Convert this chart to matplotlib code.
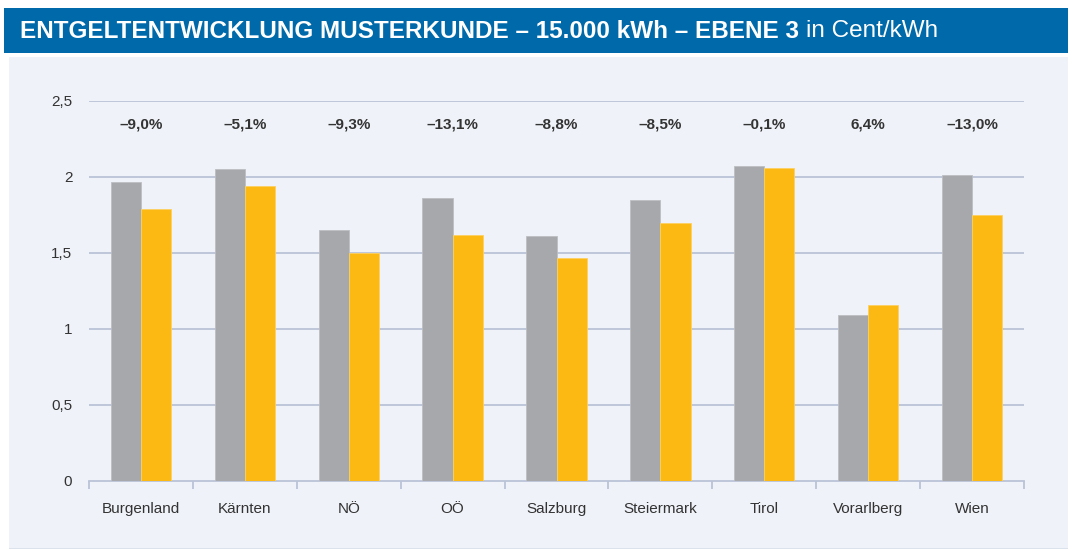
import matplotlib
matplotlib.use("Agg")
import matplotlib.pyplot as plt
from matplotlib.patches import Rectangle
import numpy as np

categories = ["Burgenland", "Kärnten", "NÖ", "OÖ", "Salzburg", "Steiermark", "Tirol", "Vorarlberg", "Wien"]
values_old = [1.97, 2.05, 1.65, 1.86, 1.61, 1.85, 2.07, 1.09, 2.01]
values_new = [1.79, 1.94, 1.50, 1.62, 1.47, 1.70, 2.06, 1.16, 1.75]
changes = ["–9,0%", "–5,1%", "–9,3%", "–13,1%", "–8,8%", "–8,5%", "–0,1%", "6,4%", "–13,0%"]
yticks = [0, 0.5, 1, 1.5, 2, 2.5]
ytick_labels = ["0", "0,5", "1", "1,5", "2", "2,5"]

plt.rcParams['font.family'] = ['Liberation Sans', 'DejaVu Sans']

W, H = 1073, 550
fig = plt.figure(figsize=(W/100, H/100), dpi=100)
fig.patch.set_facecolor('white')

# panel background
fig.patches.append(Rectangle((9/W, 1-548/H), (1068-9)/W, (548-57)/H, transform=fig.transFigure,
                             facecolor='#EFF2F8', edgecolor='none', zorder=-5))
fig.patches.append(Rectangle((9/W, 1-549/H), (1068-9)/W, 1.5/H, transform=fig.transFigure,
                             facecolor='#DCE2EC', edgecolor='none', zorder=-5))
# title bar
fig.patches.append(Rectangle((4/W, 1-53/H), (1068-4)/W, (53-8)/H, transform=fig.transFigure,
                             facecolor='#0069AA', edgecolor='none', zorder=-5))
fig.text(20/W, 1-31/H, "ENTGELTENTWICKLUNG MUSTERKUNDE – 15.000 kWh – EBENE 3",
         color='white', fontsize=17.5, fontweight='bold', va='center', ha='left')
fig.canvas.draw()
t = fig.texts[-1]
bb = t.get_window_extent(renderer=fig.canvas.get_renderer())
fig.text((bb.x1 + 7)/W, 1-31/H, "in Cent/kWh", color='white', fontsize=17.5, va='center', ha='left')

ax = fig.add_axes([89/W, 1-481/H, (1024-89)/W, (481-101)/H])
ax.set_zorder(2)
ax.set_facecolor('none')
x = np.arange(len(categories))
bw = 0.29
ax.bar(x - bw/2, values_old, bw, color='#A7A8AC', edgecolor='#BDBEC2', linewidth=0.6, zorder=3)
ax.bar(x + bw/2, values_new, bw, color='#FDB913', edgecolor='#FDD060', linewidth=0.6, zorder=3)

for xi, c in zip(x, changes):
    ax.text(xi, 2.345, c, ha='center', va='center', fontsize=11, color='#333333', fontweight='bold')

ax.set_xlim(-0.5, len(categories) - 0.5)
ax.set_ylim(0, 2.5)
ax.set_yticks(yticks)
ax.set_yticklabels(ytick_labels, fontsize=11, color='#333333')
for yv in yticks[1:]:
    ax.axhline(yv, color='#BAC4D8', linewidth=1.3, zorder=1)
ax.tick_params(axis='y', length=0, pad=12)
ax.set_xticks(np.arange(-0.5, len(categories), 1.0))
ax.set_xticklabels([])
ax.set_xticks(x, minor=True)
ax.set_xticklabels(categories, minor=True, fontsize=11, color='#333333')
ax.tick_params(axis='x', which='major', length=6, color='#BAC4D8', width=1.3)
ax.tick_params(axis='x', which='minor', length=0, pad=15)
for s in ['top', 'right', 'left']:
    ax.spines[s].set_visible(False)
ax.spines['bottom'].set_color('#BAC4D8')
ax.spines['bottom'].set_linewidth(1.3)

fig.savefig('out.png', dpi=100, facecolor='white')
